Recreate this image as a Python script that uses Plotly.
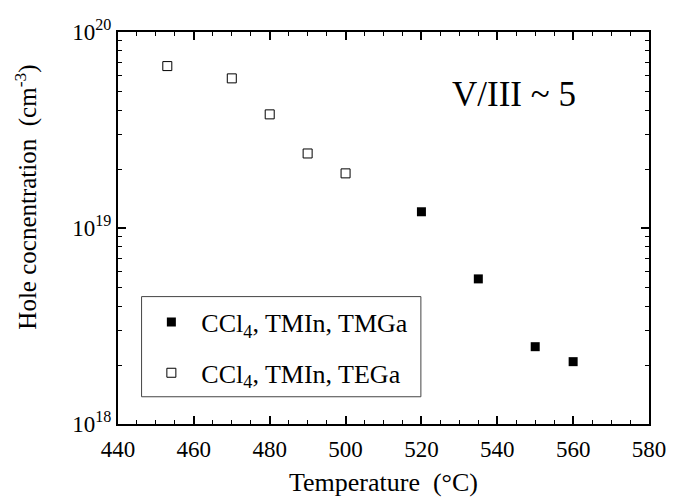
import plotly.graph_objects as go

# Hole concentration vs growth temperature, two precursor sets
temp_tmga = [520, 535, 550, 560]
hole_tmga = [1.21e19, 5.5e18, 2.48e18, 2.08e18]

temp_tega = [453, 470, 480, 490, 500]
hole_tega = [6.7e19, 5.8e19, 3.8e19, 2.4e19, 1.9e19]

name_tmga = "CCl<sub>4</sub>, TMIn, TMGa"
name_tega = "CCl<sub>4</sub>, TMIn, TEGa"

x_major = [440, 460, 480, 500, 520, 540, 560, 580]
y_major = [1e18, 1e19, 1e20]
y_major_text = ["10<sup>18</sup>", "10<sup>19</sup>", "10<sup>20</sup>"]
y_minor = [k * d for d in (1e18, 1e19) for k in range(2, 10)]

FONT = "Liberation Serif, Times New Roman, serif"

fig = go.Figure()
fig.add_trace(go.Scatter(
    x=temp_tmga, y=hole_tmga, mode="markers", name=name_tmga,
    legendgroup="a",
    marker=dict(symbol="square", size=9, color="black"),
))
fig.add_trace(go.Scatter(
    x=temp_tega, y=hole_tega, mode="markers", name=name_tega,
    legendgroup="b",
    marker=dict(symbol="square-open", size=9, color="black",
                line=dict(width=1, color="black")),
))

axis_common = dict(
    showline=True, linecolor="black", linewidth=2, mirror="ticks",
    ticks="inside", ticklen=8, tickwidth=1.5, tickcolor="black",
    showgrid=False, zeroline=False,
    tickfont=dict(family=FONT, size=23, color="black"),
)

fig.update_xaxes(
    range=[440, 580], tickvals=x_major, ticklabelstandoff=3,
    minor=dict(ticks="inside", dtick=5, tick0=440, ticklen=4,
               tickwidth=1, tickcolor="black"),
    title=dict(text="Temperature\u00a0\u00a0(°C)", standoff=12,
               font=dict(family=FONT, size=26, color="black")),
    **axis_common,
)
fig.update_yaxes(
    type="log", range=[18, 20],
    tickvals=y_major, ticktext=y_major_text,
    minor=dict(ticks="inside", tickmode="array", tickvals=y_minor,
               ticklen=4, tickwidth=1, tickcolor="black"),
    **axis_common,
)

fig.add_annotation(
    text="Hole cocnentration\u00a0\u00a0(cm<sup>-3</sup>)", textangle=-90,
    xref="paper", yref="paper", x=-0.174, y=0.579,
    xanchor="center", yanchor="middle", showarrow=False,
    font=dict(family=FONT, size=25, color="black"),
)
fig.add_annotation(
    text="V/III ~ 5", x=544.5, y=19.68, showarrow=False,
    font=dict(family=FONT, size=35, color="black"),
)

# Frame drawn around the legend entries
fig.add_shape(
    type="rect", xref="paper", yref="paper",
    x0=0.0444, x1=0.5704, y0=0.0695, y1=0.325,
    line=dict(color="#444", width=1), fillcolor="rgba(0,0,0,0)",
    layer="above",
)

fig.update_layout(
    width=678, height=504,
    margin=dict(l=118, r=20, t=32, b=69),
    paper_bgcolor="white", plot_bgcolor="white",
    showlegend=True,
    legend=dict(
        x=0.044, y=0.32, xanchor="left", yanchor="top",
        borderwidth=0, bgcolor="rgba(0,0,0,0)",
        font=dict(family=FONT, size=26, color="black"),
        traceorder="grouped", tracegroupgap=14, itemwidth=50,
    ),
)

fig.write_html("out.html")
